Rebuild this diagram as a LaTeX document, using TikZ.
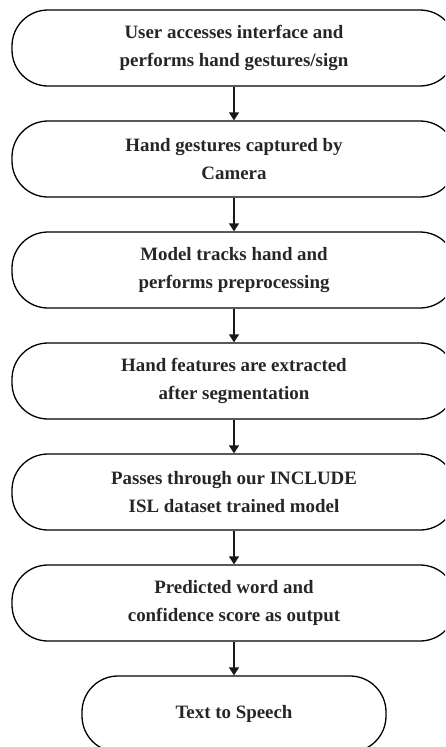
\documentclass[tikz,border=0pt]{standalone}
\usepackage{fontspec}
\setmainfont{Liberation Serif}
\usetikzlibrary{positioning,arrows.meta}
\tikzset{%
  flow box/.style={
    draw=black,
    line width=1.3pt,
    rounded corners=36pt,
    minimum width=444pt,
    minimum height=76pt,
    align=center,
    text=black!85
  },
}

\begin{document}
\begin{tikzpicture}[x=1pt,y=1pt,node distance=33.7pt,>={Triangle[width=10pt,length=8pt]},font=\fontsize{18.9}{28}\selectfont\bfseries]
      \tikzstyle{flow}=[->,line width=1.3pt,draw=black!90]
      \clip (0,0) rectangle (445,-747);

      \node[flow box] (s1) at (234,-48) {User accesses interface and\\performs hand gestures/sign};
      \node[flow box,below=of s1] (s2) {Hand gestures captured by\\Camera};
      \node[flow box,below=of s2] (s3) {Model tracks hand and\\performs preprocessing};
      \node[flow box,below=of s3] (s4) {Hand features are extracted\\after segmentation};
      \node[flow box,below=of s4] (s5) {Passes through our INCLUDE\\ISL dataset trained model};
      \node[flow box,below=of s5] (s6) {Predicted word and\\confidence score as output};
      \node[flow box,below=of s6,minimum width=304pt] (s7) {Text to Speech};

      \draw[flow] (s1) -- (s2);
      \draw[flow] (s2) -- (s3);
      \draw[flow] (s3) -- (s4);
      \draw[flow] (s4) -- (s5);
      \draw[flow] (s5) -- (s6);
      \draw[flow] (s6) -- (s7);
  \end{tikzpicture}
\end{document}
